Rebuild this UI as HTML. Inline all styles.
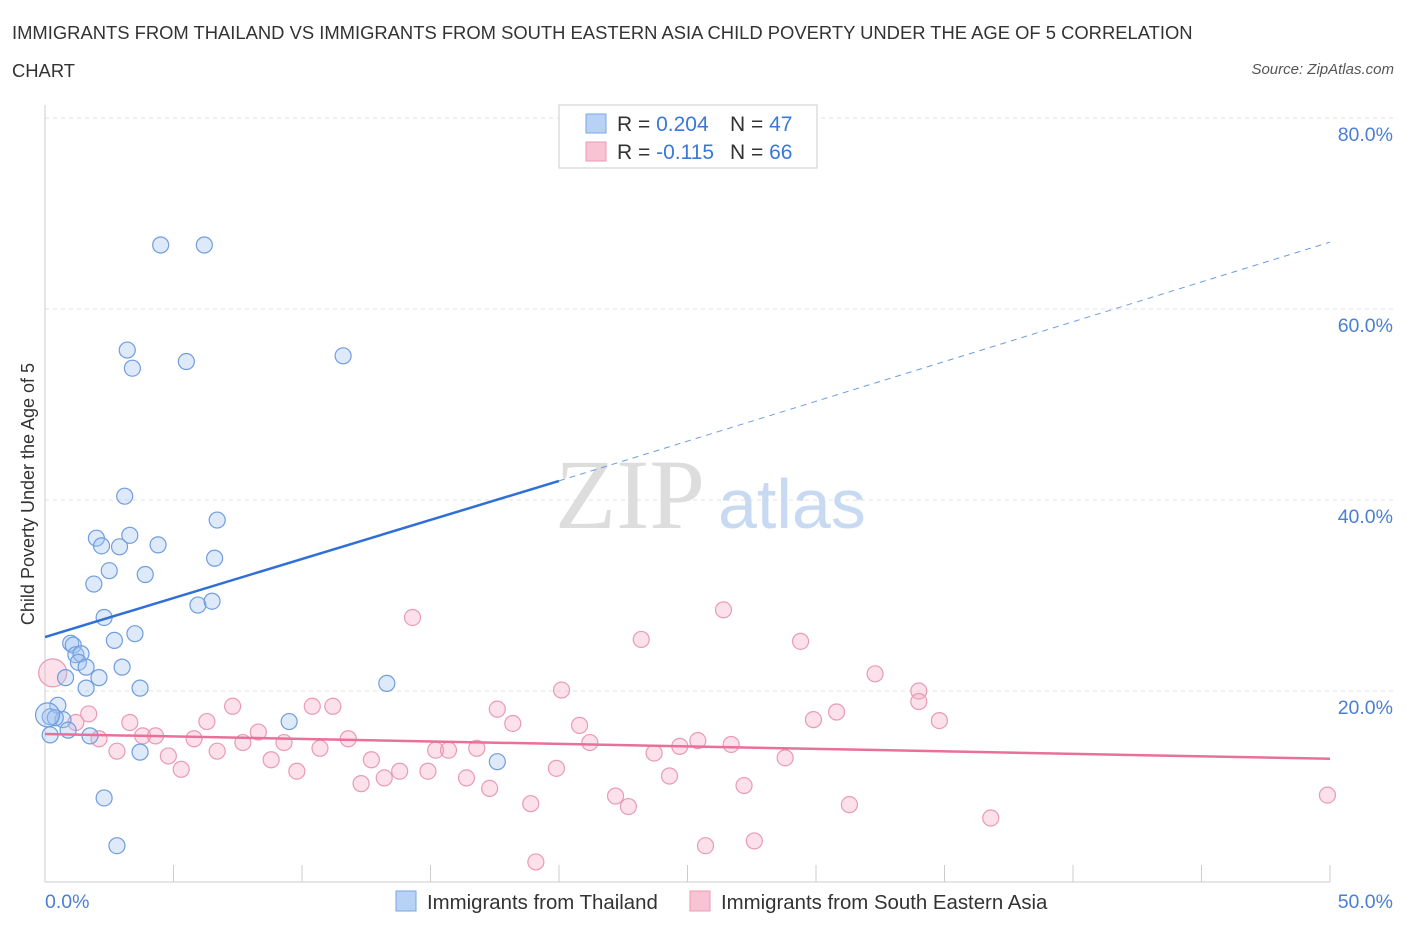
<!DOCTYPE html>
<html><head><meta charset="utf-8">
<style>
body{margin:0;background:#fff;font-family:"Liberation Sans",sans-serif;}
#wrap{position:relative;width:1406px;height:930px;}
.title{position:absolute;left:12px;top:14px;font-size:18.4px;color:#333;line-height:38px;width:1215px;}
.src{position:absolute;right:12px;top:61px;font-size:15px;color:#555;font-style:italic;}
</style></head><body>
<div id="wrap">
<div class="title">IMMIGRANTS FROM THAILAND VS IMMIGRANTS FROM SOUTH EASTERN ASIA CHILD POVERTY UNDER THE AGE OF 5 CORRELATION CHART</div>
<div class="src">Source: ZipAtlas.com</div>
<svg id="svg" width="1406" height="930" style="position:absolute;left:0;top:0"></svg>
</div>
<script>
const blueX=[4.5,6.2,3.2,3.4,5.5,11.6,3.1,2.0,3.3,2.2,2.9,4.4,6.7,6.6,2.5,3.9,1.9,5.95,6.5,2.3,3.5,2.7,1.0,1.1,1.2,1.4,1.3,1.6,3.0,0.8,2.1,1.6,3.7,13.3,0.5,0.2,0.7,0.4,0.9,0.2,1.75,3.7,9.5,17.6,2.3,2.8,0.1];
const blueY=[66.7,66.7,55.7,53.8,54.5,55.1,40.4,36.0,36.3,35.2,35.1,35.3,37.9,33.9,32.6,32.2,31.2,29.0,29.4,27.7,26.0,25.3,25.0,24.8,23.8,23.9,23.0,22.5,22.5,21.4,21.4,20.3,20.3,20.8,18.5,17.3,17.0,17.2,15.9,15.4,15.3,13.6,16.8,12.6,8.8,3.8,17.5];
const pinkX=[0.3,1.7,1.2,2.1,2.8,3.3,3.8,4.3,4.8,5.3,5.8,6.3,6.7,7.3,7.7,8.3,8.8,9.3,9.8,10.4,10.7,11.2,11.8,12.3,12.7,13.2,13.8,14.3,14.9,15.2,15.7,16.4,16.8,17.3,17.6,18.2,18.9,19.1,19.9,20.1,20.8,21.2,22.2,22.7,23.2,23.7,24.3,24.7,25.4,25.7,26.4,26.7,27.2,27.6,28.8,29.4,29.9,30.8,31.3,32.3,34.0,34.0,34.8,36.8,49.9];
const pinkY=[21.9,17.6,16.7,15.0,13.7,16.7,15.3,15.3,13.2,11.8,15.0,16.8,13.7,18.4,14.6,15.7,12.8,14.6,11.6,18.4,14.0,18.4,15.0,10.3,12.8,10.9,11.6,27.7,11.6,13.8,13.8,10.9,14.0,9.8,18.1,16.6,8.2,2.1,11.9,20.1,16.4,14.6,9.0,7.9,25.4,13.5,11.1,14.2,14.8,3.8,28.5,14.4,10.1,4.3,13.0,25.2,17.0,17.8,8.1,21.8,20.0,18.9,16.9,6.7,9.1];
const yTicks=[20,40,60,80];
const blueLine=[25.65,42.0,67.0];
const pinkLine=[15.5,12.9];
const X=v=>45+v*25.7, Y=v=>882-v*9.55;
const svg=document.getElementById('svg');const NS='http://www.w3.org/2000/svg';
function mk(t,a,p){const e=document.createElementNS(NS,t);for(const k in a)e.setAttribute(k,a[k]);(p||svg).appendChild(e);return e;}
for(const t of yTicks){
 const l=mk('line',{x1:45,x2:1395,y1:Y(t),y2:Y(t),stroke:'#e2e2e2','stroke-dasharray':'4,4'});
 
 const tx=mk('text',{x:1393,y:Y(t)+23,'text-anchor':'end','font-size':19.5,fill:'#4a7fd4'});tx.textContent=t.toFixed(1)+'%';
 
}
mk('line',{x1:45,x2:45,y1:105,y2:882,stroke:'#ccc'});
mk('line',{x1:45,x2:1330,y1:882,y2:882,stroke:'#ccc'});
for(let i=0;i<=10;i++){mk('line',{x1:X(i*5),x2:X(i*5),y1:882,y2:i==0?882:865,stroke:'#ccc'});}
let t=mk('text',{x:45,y:908,'font-size':19.5,fill:'#4a7fd4'});t.textContent='0.0%';
t=mk('text',{x:1393,y:908,'text-anchor':'end','font-size':19.5,fill:'#4a7fd4'});t.textContent='50.0%';
t=mk('text',{x:34,y:494,'font-size':18,fill:'#333','text-anchor':'middle',transform:'rotate(-90 34 494)'});t.textContent='Child Poverty Under the Age of 5';

t=mk('text',{x:555,y:528,'font-size':100,fill:'#ddd','font-family':'Liberation Serif'});t.textContent='ZIP';
t=mk('text',{x:718,y:528,'font-size':70,fill:'#c8daf2'});t.textContent='atlas';
for(let i=0;i<pinkX.length;i++){const c=mk('circle',{cx:X(pinkX[i]),cy:Y(pinkY[i]),r:i==0?14:8,fill:'rgba(245,170,195,0.35)',stroke:'#e99ab4','stroke-width':1.2});
 }
for(let i=0;i<blueX.length;i++){const c=mk('circle',{cx:X(blueX[i]),cy:Y(blueY[i]),r:i==blueX.length-1?12:8,fill:'rgba(160,195,240,0.35)',stroke:'#6f9de0','stroke-width':1.2});
 }
let bl=mk('line',{x1:X(0),y1:Y(blueLine[0]),x2:X(20),y2:Y(blueLine[1]),stroke:'#2f6fd6','stroke-width':2.5});

mk('line',{x1:X(20),y1:Y(blueLine[1]),x2:X(50),y2:Y(blueLine[2]),stroke:'#6f9de0','stroke-width':1,'stroke-dasharray':'6,5'});
let pl=mk('line',{x1:X(0),y1:Y(pinkLine[0]),x2:X(50),y2:Y(pinkLine[1]),stroke:'#e8709a','stroke-width':2.5});

const lg=mk('g',{});
mk('rect',{x:559,y:105,width:258,height:63,fill:'#fff',stroke:'#ccc'},lg);
mk('rect',{x:586,y:114,width:20,height:19,fill:'#b8d2f5',stroke:'#7aa6e4'},lg);
mk('rect',{x:586,y:142,width:20,height:19,fill:'#f8c4d4',stroke:'#eb9ab5'},lg);
const rows=[['0.204','47',131],['-0.115','66',159]];
for(const r of rows){
 let a=mk('text',{x:617,y:r[2],'font-size':21,fill:'#333'},lg);a.innerHTML='R = <tspan fill="#3a78d8">'+r[0]+'</tspan>';
 a=mk('text',{x:730,y:r[2],'font-size':21,fill:'#333'},lg);a.innerHTML='N = <tspan fill="#3a78d8">'+r[1]+'</tspan>';
}
mk('rect',{x:396,y:891,width:20,height:20,fill:'#b8d2f5',stroke:'#7aa6e4'});
t=mk('text',{x:427,y:909,'font-size':20.4,fill:'#333'});t.textContent='Immigrants from Thailand';

mk('rect',{x:690,y:891,width:20,height:20,fill:'#f8c4d4',stroke:'#eb9ab5'});
t=mk('text',{x:721,y:909,'font-size':20.4,fill:'#333'});t.textContent='Immigrants from South Eastern Asia';

</script>
</body></html>
